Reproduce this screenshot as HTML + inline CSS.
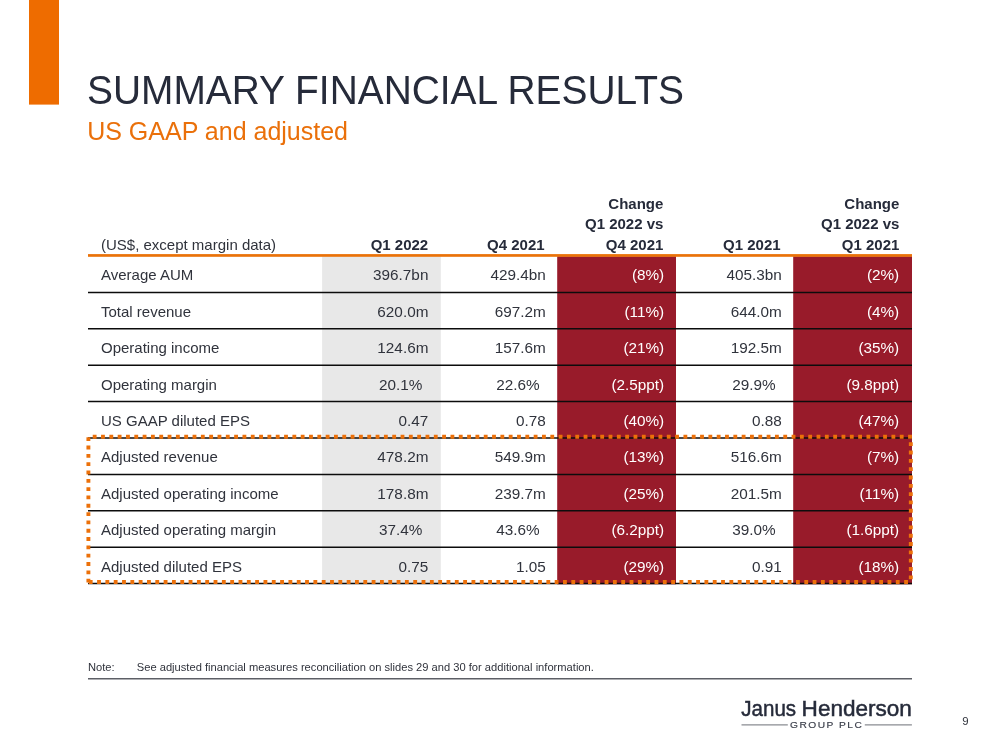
<!DOCTYPE html>
<html><head><meta charset="utf-8"><title>Summary Financial Results</title>
<style>
html,body{margin:0;padding:0;background:#fff;}
body{width:999px;height:750px;position:relative;overflow:hidden;font-family:"Liberation Sans",Arial,sans-serif;color:#30333c;}
svg.bg{position:absolute;left:0;top:0;}
h1{position:absolute;left:86.6px;top:67.2px;margin:0;font-size:40.6px;font-weight:400;line-height:46px;color:#262b3a;white-space:nowrap;transform:scaleX(0.958);transform-origin:0 0;}
h2{position:absolute;left:87.2px;top:117.3px;margin:0;font-size:25px;font-weight:400;line-height:28px;color:#ea700a;white-space:nowrap;}
.t{position:absolute;white-space:nowrap;font-size:15px;box-sizing:border-box;}
.c{height:36.4px;line-height:36.4px;}
.r{text-align:right;font-size:15.3px;}
.w{color:#fff;}
.hl{line-height:20px;height:20px;color:#30333c;}
.hb{line-height:20px;height:20px;font-weight:700;text-align:right;color:#262b3a;}
.note{position:absolute;left:88px;top:659.6px;font-size:11.15px;line-height:14px;color:#30333c;white-space:nowrap;}
.note span{display:inline-block;width:48.8px;}
.pn{position:absolute;left:962.2px;top:714.2px;font-size:11.4px;line-height:14px;color:#30333c;}
</style></head><body>
<svg class="bg" width="999" height="750" viewBox="0 0 999 750">
<rect x="29" y="0" width="30" height="104.6" fill="#ee6c00"/>
<rect x="322.1" y="256.3" width="118.7" height="328.0" fill="#e8e8e8"/>
<rect x="557.2" y="256.3" width="118.8" height="328.0" fill="#981b2a"/>
<rect x="793.2" y="256.3" width="118.8" height="328.0" fill="#981b2a"/>
<rect x="88" y="254.1" width="824" height="2.7" fill="#ea7208"/>
<line x1="88" x2="912" y1="292.40" y2="292.40" stroke="#0c0c0c" stroke-width="1.5"/>
<line x1="88" x2="912" y1="328.80" y2="328.80" stroke="#0c0c0c" stroke-width="1.5"/>
<line x1="88" x2="912" y1="365.20" y2="365.20" stroke="#0c0c0c" stroke-width="1.5"/>
<line x1="88" x2="912" y1="401.60" y2="401.60" stroke="#0c0c0c" stroke-width="1.5"/>
<line x1="88" x2="912" y1="438.00" y2="438.00" stroke="#0c0c0c" stroke-width="1.5"/>
<line x1="88" x2="912" y1="474.40" y2="474.40" stroke="#0c0c0c" stroke-width="1.5"/>
<line x1="88" x2="912" y1="510.80" y2="510.80" stroke="#0c0c0c" stroke-width="1.5"/>
<line x1="88" x2="912" y1="547.20" y2="547.20" stroke="#0c0c0c" stroke-width="1.5"/>
<line x1="88" x2="912" y1="583.60" y2="583.60" stroke="#0c0c0c" stroke-width="1.5"/>
<line x1="92.73" y1="436.8" x2="912.6" y2="436.8" stroke="#ec7009" stroke-width="3.9" stroke-dasharray="3.84 4.48" fill="none"/>
<line x1="910.8" y1="442.28" x2="910.8" y2="579.4" stroke="#ec7009" stroke-width="3.9" stroke-dasharray="3.84 4.48" fill="none"/>
<line x1="88.78" y1="582" x2="908" y2="582" stroke="#ec7009" stroke-width="3.9" stroke-dasharray="3.84 4.48" fill="none"/>
<line x1="88.4" y1="437.28" x2="88.4" y2="582.6" stroke="#ec7009" stroke-width="3.9" stroke-dasharray="3.84 4.48" fill="none"/>
<line x1="88" x2="912" y1="678.75" y2="678.75" stroke="#5d5f66" stroke-width="1.5"/>
<text x="741.3" y="715.6" font-family="'Liberation Sans',Arial,sans-serif" font-size="22.9" fill="#262b3a" stroke="#262b3a" stroke-width="0.5" textLength="54.8" lengthAdjust="spacingAndGlyphs">Janus</text>
<text x="801.6" y="715.6" font-family="'Liberation Sans',Arial,sans-serif" font-size="22.9" fill="#262b3a" stroke="#262b3a" stroke-width="0.5" textLength="110.3" lengthAdjust="spacingAndGlyphs">Henderson</text>
<line x1="741.5" x2="787.8" y1="724.9" y2="724.9" stroke="#8a8c92" stroke-width="1.2"/>
<line x1="864.8" x2="911.9" y1="724.9" y2="724.9" stroke="#8a8c92" stroke-width="1.2"/>
<text x="790" y="727.7" font-family="'Liberation Sans',Arial,sans-serif" font-size="8.2" fill="#3a3e4a" stroke="#3a3e4a" stroke-width="0.15" textLength="73.4" lengthAdjust="spacingAndGlyphs" letter-spacing="1.2">GROUP PLC</text>
</svg>
<h1>SUMMARY FINANCIAL RESULTS</h1>
<h2>US GAAP and adjusted</h2>
<div class="t hl" style="left:101.0px;top:234.7px">(US$, except margin data)</div>
<div class="t hb" style="left:322.1px;width:106.1px;top:234.7px">Q1 2022</div>
<div class="t hb" style="left:440.8px;width:103.8px;top:234.7px">Q4 2021</div>
<div class="t hb" style="left:557.2px;width:106.2px;top:193.6px">Change</div>
<div class="t hb" style="left:557.2px;width:106.2px;top:214.1px">Q1 2022 vs</div>
<div class="t hb" style="left:557.2px;width:106.2px;top:234.7px">Q4 2021</div>
<div class="t hb" style="left:676.0px;width:104.6px;top:234.7px">Q1 2021</div>
<div class="t hb" style="left:793.2px;width:106.2px;top:193.6px">Change</div>
<div class="t hb" style="left:793.2px;width:106.2px;top:214.1px">Q1 2022 vs</div>
<div class="t hb" style="left:793.2px;width:106.2px;top:234.7px">Q1 2021</div>
<div class="t c l" style="left:101.0px;top:257.4px">Average AUM</div>
<div class="t c r" style="left:322.1px;width:106.3px;top:257.4px">396.7bn</div>
<div class="t c r" style="left:440.8px;width:104.9px;top:257.4px">429.4bn</div>
<div class="t c r w" style="left:557.2px;width:107.0px;top:257.4px">(8%)</div>
<div class="t c r" style="left:676.0px;width:105.7px;top:257.4px">405.3bn</div>
<div class="t c r w" style="left:793.2px;width:106.0px;top:257.4px">(2%)</div>
<div class="t c l" style="left:101.0px;top:293.8px">Total revenue</div>
<div class="t c r" style="left:322.1px;width:106.3px;top:293.8px">620.0m</div>
<div class="t c r" style="left:440.8px;width:104.9px;top:293.8px">697.2m</div>
<div class="t c r w" style="left:557.2px;width:107.0px;top:293.8px">(11%)</div>
<div class="t c r" style="left:676.0px;width:105.7px;top:293.8px">644.0m</div>
<div class="t c r w" style="left:793.2px;width:106.0px;top:293.8px">(4%)</div>
<div class="t c l" style="left:101.0px;top:330.2px">Operating income</div>
<div class="t c r" style="left:322.1px;width:106.3px;top:330.2px">124.6m</div>
<div class="t c r" style="left:440.8px;width:104.9px;top:330.2px">157.6m</div>
<div class="t c r w" style="left:557.2px;width:107.0px;top:330.2px">(21%)</div>
<div class="t c r" style="left:676.0px;width:105.7px;top:330.2px">192.5m</div>
<div class="t c r w" style="left:793.2px;width:106.0px;top:330.2px">(35%)</div>
<div class="t c l" style="left:101.0px;top:366.6px">Operating margin</div>
<div class="t c r" style="left:322.1px;width:100.3px;top:366.6px">20.1%</div>
<div class="t c r" style="left:440.8px;width:98.9px;top:366.6px">22.6%</div>
<div class="t c r w" style="left:557.2px;width:107.0px;top:366.6px">(2.5ppt)</div>
<div class="t c r" style="left:676.0px;width:99.7px;top:366.6px">29.9%</div>
<div class="t c r w" style="left:793.2px;width:106.0px;top:366.6px">(9.8ppt)</div>
<div class="t c l" style="left:101.0px;top:403.0px">US GAAP diluted EPS</div>
<div class="t c r" style="left:322.1px;width:106.3px;top:403.0px">0.47</div>
<div class="t c r" style="left:440.8px;width:104.9px;top:403.0px">0.78</div>
<div class="t c r w" style="left:557.2px;width:107.0px;top:403.0px">(40%)</div>
<div class="t c r" style="left:676.0px;width:105.7px;top:403.0px">0.88</div>
<div class="t c r w" style="left:793.2px;width:106.0px;top:403.0px">(47%)</div>
<div class="t c l" style="left:101.0px;top:439.4px">Adjusted revenue</div>
<div class="t c r" style="left:322.1px;width:106.3px;top:439.4px">478.2m</div>
<div class="t c r" style="left:440.8px;width:104.9px;top:439.4px">549.9m</div>
<div class="t c r w" style="left:557.2px;width:107.0px;top:439.4px">(13%)</div>
<div class="t c r" style="left:676.0px;width:105.7px;top:439.4px">516.6m</div>
<div class="t c r w" style="left:793.2px;width:106.0px;top:439.4px">(7%)</div>
<div class="t c l" style="left:101.0px;top:475.8px">Adjusted operating income</div>
<div class="t c r" style="left:322.1px;width:106.3px;top:475.8px">178.8m</div>
<div class="t c r" style="left:440.8px;width:104.9px;top:475.8px">239.7m</div>
<div class="t c r w" style="left:557.2px;width:107.0px;top:475.8px">(25%)</div>
<div class="t c r" style="left:676.0px;width:105.7px;top:475.8px">201.5m</div>
<div class="t c r w" style="left:793.2px;width:106.0px;top:475.8px">(11%)</div>
<div class="t c l" style="left:101.0px;top:512.2px">Adjusted operating margin</div>
<div class="t c r" style="left:322.1px;width:100.3px;top:512.2px">37.4%</div>
<div class="t c r" style="left:440.8px;width:98.9px;top:512.2px">43.6%</div>
<div class="t c r w" style="left:557.2px;width:107.0px;top:512.2px">(6.2ppt)</div>
<div class="t c r" style="left:676.0px;width:99.7px;top:512.2px">39.0%</div>
<div class="t c r w" style="left:793.2px;width:106.0px;top:512.2px">(1.6ppt)</div>
<div class="t c l" style="left:101.0px;top:548.6px">Adjusted diluted EPS</div>
<div class="t c r" style="left:322.1px;width:106.3px;top:548.6px">0.75</div>
<div class="t c r" style="left:440.8px;width:104.9px;top:548.6px">1.05</div>
<div class="t c r w" style="left:557.2px;width:107.0px;top:548.6px">(29%)</div>
<div class="t c r" style="left:676.0px;width:105.7px;top:548.6px">0.91</div>
<div class="t c r w" style="left:793.2px;width:106.0px;top:548.6px">(18%)</div>
<div class="note"><span>Note:</span>See adjusted financial measures reconciliation on slides 29 and 30 for additional information.</div>
<div class="pn">9</div>
</body></html>
